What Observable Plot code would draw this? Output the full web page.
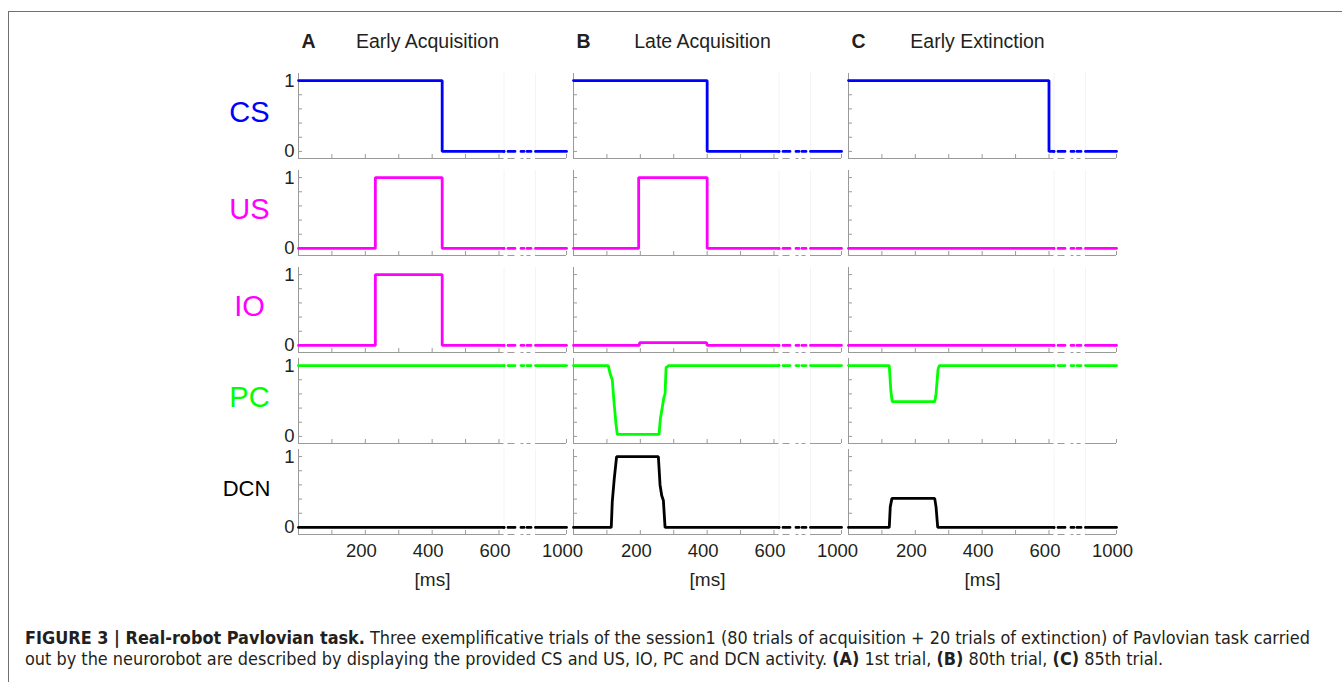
<!DOCTYPE html>
<html>
<head>
<meta charset="utf-8">
<script src="https://cdn.jsdelivr.net/npm/d3@7"></script>
<script src="https://cdn.jsdelivr.net/npm/@observablehq/plot@0.6"></script>
<style>
  body { margin: 0; background: #fff; }
  #fig { position: relative; width: 1342px; height: 682px; overflow: hidden; font-family: "Liberation Sans", Arial, sans-serif; background: #fff; }
  #border { position: absolute; left: 8px; top: 11px; width: 1400px; height: 700px; border-top: 1.5px solid #707070; border-left: 1.5px solid #707070; }
  #caption { position: absolute; left: 25px; top: 627px; font-family: "DejaVu Sans Condensed", "Liberation Sans Narrow", sans-serif; font-size: 17.9px; line-height: 21px; color: #231f20; white-space: nowrap; }
  #fig svg { position: absolute; left: 0; overflow: visible; }
</style>
</head>
<body>
<div id="fig">
  <div id="border"></div>
  <div id="caption"><b>FIGURE 3 | Real-robot Pavlovian task.</b> Three exemplificative trials of the session1 (80 trials of acquisition + 20 trials of extinction) of Pavlovian task carried<br>out by the neurorobot are described by displaying the provided CS and US, IO, PC and DCN activity. <b>(A)</b> 1st trial, <b>(B)</b> 80th trial, <b>(C)</b> 85th trial.</div>
</div>
<script>
// ---------- data ----------
const conditions = ["A", "B", "C"];
const conditionTitles = ["Early Acquisition", "Late Acquisition", "Early Extinction"];
const signals = ["CS", "US", "IO", "PC", "DCN"];
const signalColors = ["#0000ff", "#ff00ff", "#ff00ff", "#00ff00", "#000000"];
const signalLabelSizes = [29, 29, 29, 29, 22];
const xTicks = [100, 200, 300, 400, 500, 600, 1000];
const xTickLabels = [200, 400, 600, 1000];
const yTicks = [0, 0.2, 0.4, 0.6, 0.8, 1];
const yTickLabels = [0, 1];
const xBreak = [615, 905];          // broken time axis (ms)

// traces: [time ms, activity]
const CS_A = [[0, 1], [430, 1], [430, 0], [1000, 0]];
const CS_B = [[0, 1], [400, 1], [400, 0], [1000, 0]];
const CS_C = [[0, 1], [600, 1], [600, 0], [1000, 0]];
const US_A = [[0, 0], [230, 0], [230, 1], [430, 1], [430, 0], [1000, 0]];
const US_B = [[0, 0], [195, 0], [195, 1], [400, 1], [400, 0], [1000, 0]];
const US_C = [[0, 0], [1000, 0]];
const IO_A = [[0, 0], [230, 0], [230, 1], [430, 1], [430, 0], [1000, 0]];
const IO_B = [[0, 0], [197, 0], [198, 0.04], [398, 0.04], [400, 0], [1000, 0]];
const IO_C = [[0, 0], [1000, 0]];
const PC_A = [[0, 1], [1000, 1]];
const PC_B = [[0, 1], [104, 1], [110, 0.88], [116, 0.8], [121, 0.5], [127, 0.18], [131, 0.03], [256, 0.03], [260, 0.25], [266, 0.42], [270, 0.54], [274, 0.6], [277, 0.97], [285, 1], [1000, 1]];
const PC_C = [[0, 1], [122, 1], [127, 0.63], [131, 0.49], [258, 0.49], [262, 0.6], [268, 0.95], [272, 1], [1000, 1]];
const DCN_A = [[0, 0], [1000, 0]];
const DCN_B = [[0, 0], [113, 0], [116, 0.36], [122, 0.69], [129, 1], [254, 1], [259, 0.6], [264, 0.45], [269, 0.38], [274, 0], [1000, 0]];
const DCN_C = [[0, 0], [122, 0], [125, 0.29], [130, 0.41], [258, 0.41], [262, 0.29], [267, 0], [1000, 0]];

const traces = {
  CS: [CS_A, CS_B, CS_C],
  US: [US_A, US_B, US_C],
  IO: [IO_A, IO_B, IO_C],
  PC: [PC_A, PC_B, PC_C],
  DCN: [DCN_A, DCN_B, DCN_C]
};

// ---------- layout ----------
const W = 1342;
const rowTops = [73, 170, 267, 358, 449];
const rowH = 85;
const yDomain = [-0.1, 1.1];
const axisGray = "#9a9a9a";
const textColor = "#231f20";
const breakDash = "0,4,7,6,3,3,4,10";
const font = '"Liberation Sans", Arial, Helvetica, sans-serif';
const fmtInt = d3.format("d");

function splitTrace(points, cond) {
  const [b0, b1] = xBreak;
  const valueAt = (t) => { let v = points[0][1]; for (const [tt, vv] of points) if (tt <= t) v = vv; return v; };
  const v0 = valueAt(b0), v1 = valueAt(b1);
  const solid = [
    ...points.filter(([t]) => t <= b0).map(([t, v]) => ({cond, t, v, part: "a"})),
    {cond, t: b0, v: v0, part: "a"},
    {cond, t: b1, v: v1, part: "c"},
    ...points.filter(([t]) => t >= b1).map(([t, v]) => ({cond, t, v, part: "c"}))
  ];
  const gap = [{cond, t: b0, v: v0, part: "b"}, {cond, t: b1, v: v1, part: "b"}];
  return {solid, gap};
}

const fig = document.getElementById("fig");

signals.forEach((sig, i) => {
  const isFirst = i === 0, isLast = i === signals.length - 1;
  const mt = isFirst ? rowTops[0] : 12;
  const mb = isLast ? (682 - rowTops[i] - rowH) : 12;
  const color = signalColors[i];
  let solid = [], gap = [];
  conditions.forEach((c, j) => {
    const s = splitTrace(traces[sig][j], c);
    solid = solid.concat(s.solid);
    gap = gap.concat(s.gap);
  });

  const marks = [
    Plot.ruleX(xBreak, {stroke: "#f4f4f4"}),
    Plot.ruleX([0], {stroke: axisGray}),
    Plot.ruleY([yDomain[0]], {x1: 0, x2: xBreak[0], stroke: axisGray}),
    Plot.ruleY([yDomain[0]], {x1: xBreak[0], x2: xBreak[1], stroke: axisGray, strokeDasharray: breakDash}),
    Plot.ruleY([yDomain[0]], {x1: xBreak[1], x2: 1000, stroke: axisGray}),
    Plot.axisX({ticks: xTicks, tickSize: 4, dy: -4, tickFormat: () => "", label: null, stroke: axisGray, facetAnchor: null}),
    Plot.axisY({ticks: yTicks, tickSize: 4, dx: 4, tickFormat: () => "", label: null, stroke: axisGray, facetAnchor: null}),
    Plot.axisY({ticks: yTickLabels, tickSize: 0, tickPadding: 4, tickFormat: fmtInt, fontSize: 18.5, label: null, facetAnchor: "left", fill: textColor}),
    Plot.line(solid, {x: "t", y: "v", z: "part", fx: "cond", stroke: color, strokeWidth: 2.8, strokeLinejoin: "miter"}),
    Plot.line(gap, {x: "t", y: "v", z: "part", fx: "cond", stroke: color, strokeWidth: 2.8, strokeDasharray: breakDash}),
    Plot.text([{cond: "A", sig, color, size: signalLabelSizes[i]}], {
      fx: "cond", text: "sig", frameAnchor: "left", dx: isLast ? -52 : -49, dy: -3,
      fill: "color", fontSize: "size", textAnchor: "middle", lineAnchor: "middle"
    })
  ];

  if (isFirst) {
    const titles = conditions.map((c, j) => ({cond: c, title: conditionTitles[j]}));
    marks.push(
      Plot.text(titles, {fx: "cond", text: "cond", frameAnchor: "top-left", dx: 3, dy: -32, textAnchor: "start", lineAnchor: "middle", fontWeight: "bold", fontSize: 19.5, fill: textColor}),
      Plot.text(titles, {fx: "cond", text: "title", frameAnchor: "top", dx: -5, dy: -32, lineAnchor: "middle", fontSize: 19.5, fill: textColor})
    );
  }
  if (isLast) {
    marks.push(
      Plot.axisX({ticks: xTickLabels, tickSize: 0, tickPadding: 9, dx: -4, tickFormat: fmtInt, fontSize: 18.5, label: null, fill: textColor, facetAnchor: null}),
      Plot.text(conditions, {fx: d => d, text: () => "[ms]", frameAnchor: "bottom", dy: 45, lineAnchor: "middle", fontSize: 19, fill: textColor})
    );
  }

  const svg = Plot.plot({
    width: W,
    height: mt + rowH + mb,
    marginLeft: 297,
    marginRight: 225,
    marginTop: mt,
    marginBottom: mb,
    style: {background: "transparent", fontFamily: font, overflow: "visible"},
    fx: {domain: conditions, axis: null, paddingInner: 0.027, paddingOuter: 0},
    x: {type: "linear", domain: [0, xBreak[0], xBreak[1], 1000], range: [297, 502.5, 534, 565], axis: null},
    y: {domain: yDomain, axis: null},
    marks
  });
  svg.style.top = (rowTops[i] - mt) + "px";
  fig.appendChild(svg);
});
</script>
</body>
</html>
